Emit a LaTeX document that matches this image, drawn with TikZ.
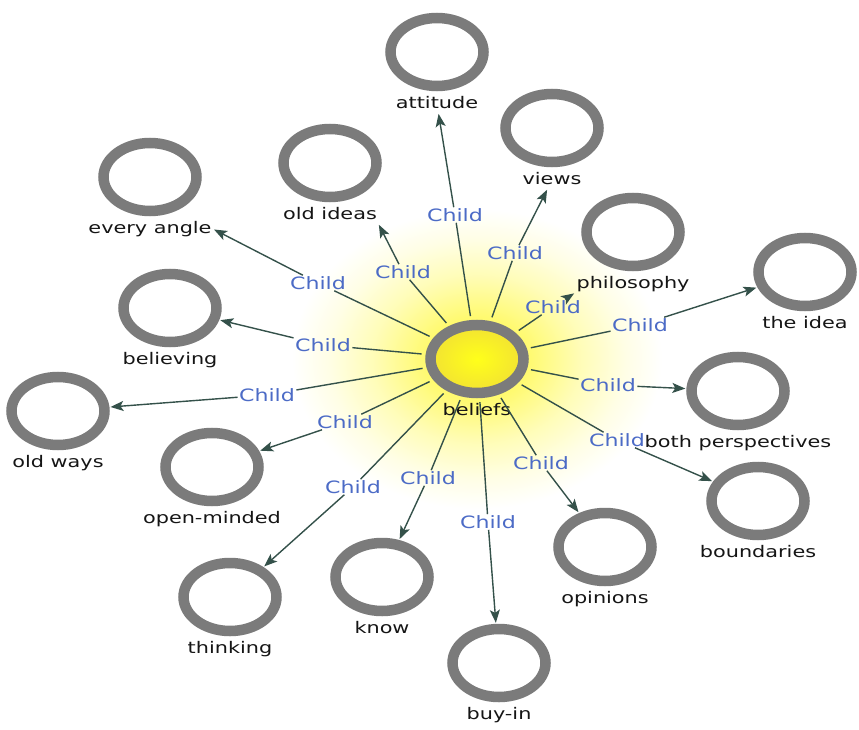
\documentclass[tikz,border=0pt]{standalone}
\usepackage{fontspec}
\setmainfont{DejaVu Sans}
\definecolor{ringgray}{HTML}{7B7B7B}
\definecolor{linkgreen}{HTML}{34514A}
\definecolor{childblue}{HTML}{4C6BC6}
\definecolor{labelblack}{HTML}{151515}
\definecolor{sunyellow}{HTML}{FFFF1A}
\definecolor{sunedge}{HTML}{F2E233}
\definecolor{glowyellow}{HTML}{FFFA70}
\usetikzlibrary{shapes.geometric,arrows.meta,positioning}
\pgfdeclareradialshading{beliefglow}{\pgfpoint{0bp}{0bp}}{color(0bp)=(glowyellow); color(7bp)=(glowyellow); color(14bp)=(glowyellow!50); color(20bp)=(glowyellow!18); color(25bp)=(white); color(50bp)=(white)}

\begin{document}
\begin{tikzpicture}[x=1pt,y=-1pt,
  ring/.style={ellipse,draw=ringgray,line width=10.5pt,minimum width=93pt,minimum height=68pt,inner sep=0pt},
  lbl/.style={font=\fontsize{16}{18}\selectfont,text=labelblack,xscale=1.3,transform shape,inner sep=1pt,text height=12pt,text depth=3.2pt},
  childtag/.style={font=\fontsize{17}{19}\selectfont,text=childblue,xscale=1.3,transform shape,inner sep=1pt},
  spoke/.style={linkgreen,line width=1.4pt},
  spokearrow/.style={-{Stealth[length=13pt,width=10pt,inset=3pt]},shorten >=1pt}]
  \useasboundingbox (0,0) rectangle (859,730);
  % glow round the centre
  \shade[shading=beliefglow] (477,359) ellipse (185 and 150);
  % centre
  \node[ring,inner color=sunyellow,outer color=sunedge] (beliefs) at (477,359) {};
  \node[lbl,below=4pt of beliefs] (beliefs-l) {beliefs};
  % rings round it
  \node[ring] (attitude) at (437,52) {};
  \node[lbl,below=4pt of attitude] (attitude-l) {attitude};
  \node[ring] (views) at (552,128) {};
  \node[lbl,below=4pt of views] (views-l) {views};
  \node[ring] (oldideas) at (330,163) {};
  \node[lbl,below=4pt of oldideas] (oldideas-l) {old ideas};
  \node[ring] (everyangle) at (150,177) {};
  \node[lbl,below=4pt of everyangle] (everyangle-l) {every angle};
  \node[ring] (philosophy) at (633,232) {};
  \node[lbl,below=4pt of philosophy] (philosophy-l) {philosophy};
  \node[ring] (theidea) at (805,272) {};
  \node[lbl,below=4pt of theidea] (theidea-l) {the idea};
  \node[ring] (believing) at (170,308) {};
  \node[lbl,below=4pt of believing] (believing-l) {believing};
  \node[ring] (oldways) at (58,411) {};
  \node[lbl,below=4pt of oldways] (oldways-l) {old ways};
  \node[ring] (perspectives) at (738,391) {};
  \node[lbl,below=4pt of perspectives] (perspectives-l) {both perspectives};
  \node[ring] (openminded) at (212,467) {};
  \node[lbl,below=4pt of openminded] (openminded-l) {open-minded};
  \node[ring] (boundaries) at (758,501) {};
  \node[lbl,below=4pt of boundaries] (boundaries-l) {boundaries};
  \node[ring] (opinions) at (605,547) {};
  \node[lbl,below=4pt of opinions] (opinions-l) {opinions};
  \node[ring] (know) at (382,577) {};
  \node[lbl,below=4pt of know] (know-l) {know};
  \node[ring] (thinking) at (230,597) {};
  \node[lbl,below=4pt of thinking] (thinking-l) {thinking};
  \node[ring] (buyin) at (499,663) {};
  \node[lbl,below=4pt of buyin] (buyin-l) {buy-in};
  % edge labels
  \node[childtag] (c-attitude) at (455,215) {Child};
  \node[childtag] (c-views) at (515,253) {Child};
  \node[childtag] (c-oldideas) at (403,272) {Child};
  \node[childtag] (c-everyangle) at (318,283) {Child};
  \node[childtag] (c-philosophy) at (553,307) {Child};
  \node[childtag] (c-theidea) at (640,325) {Child};
  \node[childtag] (c-believing) at (323,345) {Child};
  \node[childtag] (c-oldways) at (267,395) {Child};
  \node[childtag] (c-perspectives) at (608,385) {Child};
  \node[childtag] (c-openminded) at (345,422) {Child};
  \node[childtag] (c-boundaries) at (617,440) {Child};
  \node[childtag] (c-opinions) at (541,463) {Child};
  \node[childtag] (c-know) at (428,478) {Child};
  \node[childtag] (c-thinking) at (353,487) {Child};
  \node[childtag] (c-buyin) at (488,522) {Child};
  % spokes
  \foreach \n/\t in {attitude/attitude-l, views/views-l, oldideas/oldideas-l.south east,
      everyangle/everyangle-l.east, philosophy/philosophy-l.south west, theidea/theidea,
      believing/believing, oldways/oldways, perspectives/perspectives, openminded/openminded,
      boundaries/boundaries, opinions/opinions, know/know, thinking/thinking, buyin/buyin}
  {
    \draw[spoke,shorten <=4pt] (beliefs) -- (c-\n);
    \draw[spoke,spokearrow] (c-\n) -- (\t);
  }
\end{tikzpicture}
\end{document}
